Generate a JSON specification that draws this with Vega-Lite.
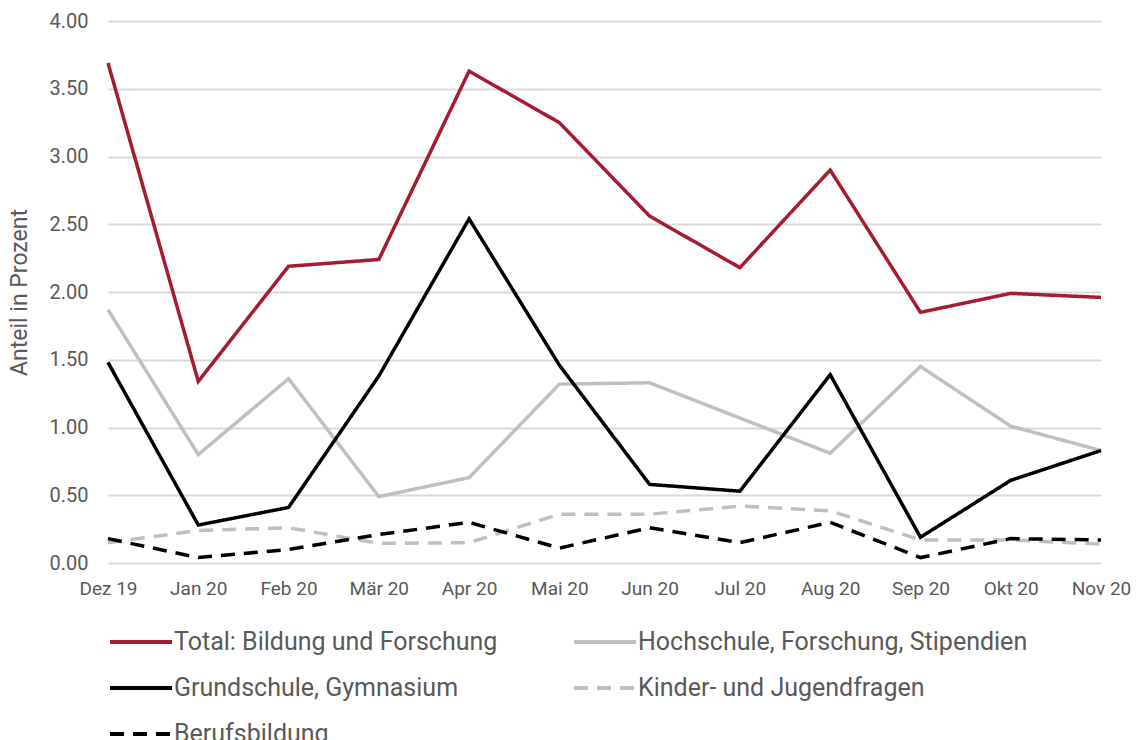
{
  "$schema": "https://vega.github.io/schema/vega-lite/v6.json",
  "width": 993,
  "height": 542,
  "autosize": {"type": "none"},
  "padding": {"left": 108, "top": 21, "right": 36, "bottom": 177},
  "background": "white",
  "config": {
    "font": "Roboto",
    "view": {"stroke": null},
    "axis": {"labelColor": "#595959", "titleColor": "#595959", "labelFont": "Roboto", "titleFont": "Roboto"}
  },
  "data": {
    "values": [
      {"monat": "Dez 19", "serie": "Total: Bildung und Forschung", "wert": 3.69},
      {"monat": "Jan 20", "serie": "Total: Bildung und Forschung", "wert": 1.34},
      {"monat": "Feb 20", "serie": "Total: Bildung und Forschung", "wert": 2.19},
      {"monat": "Mär 20", "serie": "Total: Bildung und Forschung", "wert": 2.24},
      {"monat": "Apr 20", "serie": "Total: Bildung und Forschung", "wert": 3.63},
      {"monat": "Mai 20", "serie": "Total: Bildung und Forschung", "wert": 3.25},
      {"monat": "Jun 20", "serie": "Total: Bildung und Forschung", "wert": 2.56},
      {"monat": "Jul 20", "serie": "Total: Bildung und Forschung", "wert": 2.18},
      {"monat": "Aug 20", "serie": "Total: Bildung und Forschung", "wert": 2.90},
      {"monat": "Sep 20", "serie": "Total: Bildung und Forschung", "wert": 1.85},
      {"monat": "Okt 20", "serie": "Total: Bildung und Forschung", "wert": 1.99},
      {"monat": "Nov 20", "serie": "Total: Bildung und Forschung", "wert": 1.96},
      {"monat": "Dez 19", "serie": "Hochschule, Forschung, Stipendien", "wert": 1.87},
      {"monat": "Jan 20", "serie": "Hochschule, Forschung, Stipendien", "wert": 0.80},
      {"monat": "Feb 20", "serie": "Hochschule, Forschung, Stipendien", "wert": 1.36},
      {"monat": "Mär 20", "serie": "Hochschule, Forschung, Stipendien", "wert": 0.49},
      {"monat": "Apr 20", "serie": "Hochschule, Forschung, Stipendien", "wert": 0.63},
      {"monat": "Mai 20", "serie": "Hochschule, Forschung, Stipendien", "wert": 1.32},
      {"monat": "Jun 20", "serie": "Hochschule, Forschung, Stipendien", "wert": 1.33},
      {"monat": "Jul 20", "serie": "Hochschule, Forschung, Stipendien", "wert": 1.07},
      {"monat": "Aug 20", "serie": "Hochschule, Forschung, Stipendien", "wert": 0.81},
      {"monat": "Sep 20", "serie": "Hochschule, Forschung, Stipendien", "wert": 1.45},
      {"monat": "Okt 20", "serie": "Hochschule, Forschung, Stipendien", "wert": 1.01},
      {"monat": "Nov 20", "serie": "Hochschule, Forschung, Stipendien", "wert": 0.83},
      {"monat": "Dez 19", "serie": "Grundschule, Gymnasium", "wert": 1.48},
      {"monat": "Jan 20", "serie": "Grundschule, Gymnasium", "wert": 0.28},
      {"monat": "Feb 20", "serie": "Grundschule, Gymnasium", "wert": 0.41},
      {"monat": "Mär 20", "serie": "Grundschule, Gymnasium", "wert": 1.38},
      {"monat": "Apr 20", "serie": "Grundschule, Gymnasium", "wert": 2.54},
      {"monat": "Mai 20", "serie": "Grundschule, Gymnasium", "wert": 1.46},
      {"monat": "Jun 20", "serie": "Grundschule, Gymnasium", "wert": 0.58},
      {"monat": "Jul 20", "serie": "Grundschule, Gymnasium", "wert": 0.53},
      {"monat": "Aug 20", "serie": "Grundschule, Gymnasium", "wert": 1.39},
      {"monat": "Sep 20", "serie": "Grundschule, Gymnasium", "wert": 0.19},
      {"monat": "Okt 20", "serie": "Grundschule, Gymnasium", "wert": 0.61},
      {"monat": "Nov 20", "serie": "Grundschule, Gymnasium", "wert": 0.83},
      {"monat": "Dez 19", "serie": "Kinder- und Jugendfragen", "wert": 0.15},
      {"monat": "Jan 20", "serie": "Kinder- und Jugendfragen", "wert": 0.24},
      {"monat": "Feb 20", "serie": "Kinder- und Jugendfragen", "wert": 0.26},
      {"monat": "Mär 20", "serie": "Kinder- und Jugendfragen", "wert": 0.145},
      {"monat": "Apr 20", "serie": "Kinder- und Jugendfragen", "wert": 0.15},
      {"monat": "Mai 20", "serie": "Kinder- und Jugendfragen", "wert": 0.36},
      {"monat": "Jun 20", "serie": "Kinder- und Jugendfragen", "wert": 0.36},
      {"monat": "Jul 20", "serie": "Kinder- und Jugendfragen", "wert": 0.42},
      {"monat": "Aug 20", "serie": "Kinder- und Jugendfragen", "wert": 0.385},
      {"monat": "Sep 20", "serie": "Kinder- und Jugendfragen", "wert": 0.17},
      {"monat": "Okt 20", "serie": "Kinder- und Jugendfragen", "wert": 0.17},
      {"monat": "Nov 20", "serie": "Kinder- und Jugendfragen", "wert": 0.14},
      {"monat": "Dez 19", "serie": "Berufsbildung", "wert": 0.18},
      {"monat": "Jan 20", "serie": "Berufsbildung", "wert": 0.04},
      {"monat": "Feb 20", "serie": "Berufsbildung", "wert": 0.10},
      {"monat": "Mär 20", "serie": "Berufsbildung", "wert": 0.21},
      {"monat": "Apr 20", "serie": "Berufsbildung", "wert": 0.30},
      {"monat": "Mai 20", "serie": "Berufsbildung", "wert": 0.11},
      {"monat": "Jun 20", "serie": "Berufsbildung", "wert": 0.26},
      {"monat": "Jul 20", "serie": "Berufsbildung", "wert": 0.15},
      {"monat": "Aug 20", "serie": "Berufsbildung", "wert": 0.30},
      {"monat": "Sep 20", "serie": "Berufsbildung", "wert": 0.04},
      {"monat": "Okt 20", "serie": "Berufsbildung", "wert": 0.18},
      {"monat": "Nov 20", "serie": "Berufsbildung", "wert": 0.17}
    ]
  },
  "mark": {"type": "line", "strokeWidth": 3.5, "strokeCap": "butt", "strokeJoin": "miter"},
  "encoding": {
    "x": {
      "field": "monat", "type": "ordinal", "sort": null,
      "scale": {"type": "point", "padding": 0},
      "axis": {"title": null, "labelAngle": 0, "labelFontSize": 19, "labelPadding": 16, "ticks": false, "domain": false, "grid": false}
    },
    "y": {
      "field": "wert", "type": "quantitative",
      "scale": {"domain": [0, 4]},
      "axis": {"title": "Anteil in Prozent", "titleFontSize": 23, "titleFontWeight": "normal", "titlePadding": 18, "format": ".2f", "values": [0, 0.5, 1, 1.5, 2, 2.5, 3, 3.5, 4], "labelFontSize": 20, "labelPadding": 20, "ticks": false, "domain": false, "gridColor": "#D9D9D9", "gridWidth": 2}
    },
    "color": {
      "field": "serie", "type": "nominal",
      "scale": {
        "domain": ["Total: Bildung und Forschung", "Hochschule, Forschung, Stipendien", "Grundschule, Gymnasium", "Kinder- und Jugendfragen", "Berufsbildung"],
        "range": ["#A51C30", "#BFBFBF", "#000000", "#BFBFBF", "#000000"]
      },
      "legend": {
        "title": null, "orient": "none", "legendX": 0, "legendY": 588, "direction": "horizontal", "columns": 2,
        "symbolType": "stroke", "symbolSize": 3844, "symbolStrokeWidth": 4,
        "labelFontSize": 25, "labelColor": "#595959", "labelOffset": 0, "labelLimit": 500,
        "columnPadding": 68, "rowPadding": 0
      }
    },
    "strokeDash": {
      "field": "serie", "type": "nominal",
      "scale": {
        "domain": ["Total: Bildung und Forschung", "Hochschule, Forschung, Stipendien", "Grundschule, Gymnasium", "Kinder- und Jugendfragen", "Berufsbildung"],
        "range": [[1, 0], [1, 0], [1, 0], [14, 9], [14, 9]]
      },
      "legend": null
    }
  }
}
